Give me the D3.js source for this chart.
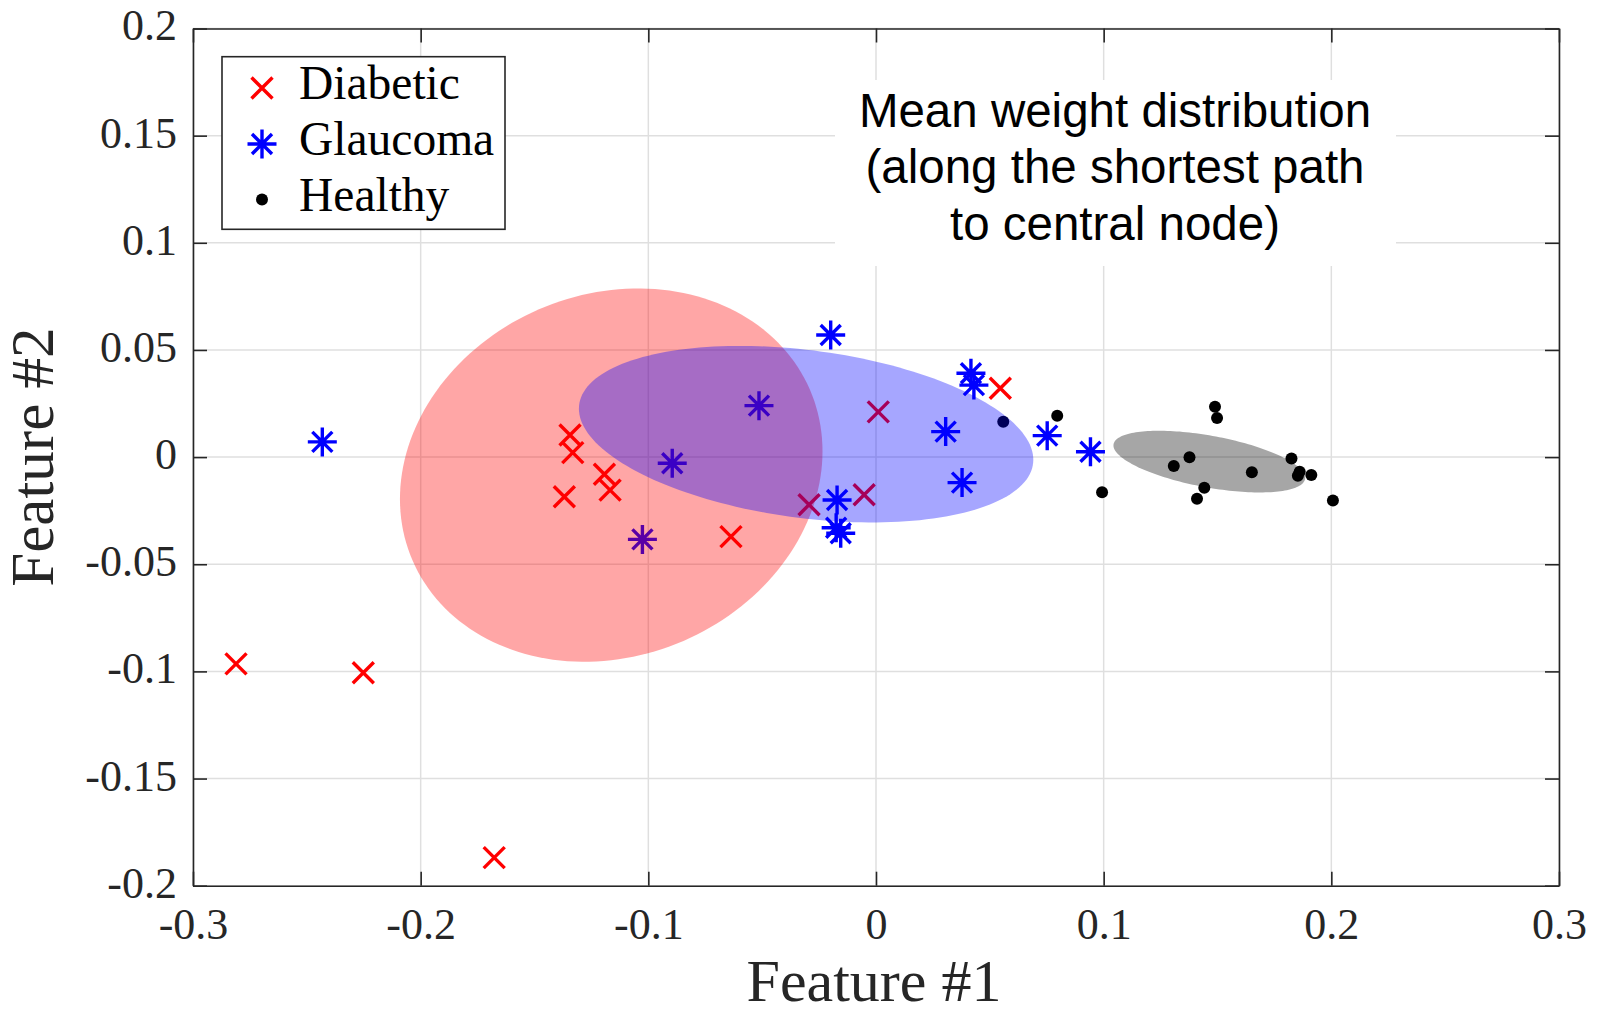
<!DOCTYPE html>
<html>
<head>
<meta charset="utf-8">
<script src="https://cdn.jsdelivr.net/npm/d3@7"></script>
<style>
  html, body { margin: 0; padding: 0; background: #ffffff; }
  svg { display: block; }
</style>
</head>
<body>
<svg id="chart" width="1600" height="1016"></svg>
<script>
// ---------------- data ----------------
const xTicks = [-0.3, -0.2, -0.1, 0, 0.1, 0.2, 0.3];
const xTickLabels = ["-0.3", "-0.2", "-0.1", "0", "0.1", "0.2", "0.3"];
const yTicks = [-0.2, -0.15, -0.1, -0.05, 0, 0.05, 0.1, 0.15, 0.2];
const yTickLabels = ["-0.2", "-0.15", "-0.1", "-0.05", "0", "0.05", "0.1", "0.15", "0.2"];

const seriesNames = ["Diabetic", "Glaucoma", "Healthy"];

const diabeticX = [-0.2811, -0.2252, -0.1677, -0.1344, -0.1332, -0.1193, -0.1168, -0.1369, -0.0637, -0.0294, -0.0052, 0.0010, 0.0546];
const diabeticY = [-0.0965, -0.1006, -0.1869, 0.0103, 0.0021, -0.0080, -0.0154, -0.0185, -0.0371, -0.0222, -0.0176, 0.0211, 0.0321];

const glaucomaX = [-0.2432, -0.1026, -0.0895, -0.0514, -0.0199, -0.0171, -0.0175, -0.0155, 0.0306, 0.0378, 0.0417, 0.0430, 0.0752, 0.0942];
const glaucomaY = [0.0071, -0.0384, -0.0029, 0.0240, 0.0570, -0.0200, -0.0330, -0.0355, 0.0119, -0.0119, 0.0391, 0.0336, 0.0100, 0.0025];

const healthyX = [0.0559, 0.0796, 0.0993, 0.1308, 0.1377, 0.1410, 0.1442, 0.1489, 0.1498, 0.1651, 0.1825, 0.1853, 0.1861, 0.1912, 0.2007];
const healthyY = [0.0165, 0.0193, -0.0164, -0.0042, -0.0001, -0.0194, -0.0143, 0.0235, 0.0182, -0.0071, -0.0007, -0.0087, -0.0068, -0.0084, -0.0202];

// distribution ellipses (Diabetic, Glaucoma, Healthy): centre, half extents, correlation
const ellipseCx  = [-0.1163, -0.0307, 0.1464];
const ellipseCy  = [-0.0084, 0.0107, -0.0021];
const ellipseRx  = [0.0928, 0.0998, 0.0421];
const ellipseRy  = [0.0871, 0.0412, 0.0144];
const ellipseRho = [0.128, -0.289, -0.525];

const titleLines = ["Mean weight distribution", "(along the shortest path", "to central node)"];
const xLabel = "Feature #1";
const yLabel = "Feature #2";

// ---------------- layout ----------------
const L = 193, R = 1559, T = 28.5, B = 885.7;
const colors = ["#ff0000", "#0000ff", "#000000"];
const axisColor = "#262626";
const serif = "'Liberation Serif', 'Times New Roman', serif";
const sans = "'Liberation Sans', Arial, sans-serif";

const svg = d3.select("#chart");
svg.append("rect").attr("width", 1600).attr("height", 1016).attr("fill", "#fff");

const x = d3.scaleLinear().domain([-0.3, 0.3]).range([L, R]);
const y = d3.scaleLinear().domain([-0.2, 0.2]).range([B, T]);

svg.append("defs").append("clipPath").attr("id", "plotclip")
  .append("rect").attr("x", L).attr("y", T).attr("width", R - L).attr("height", B - T);

// grid
const grid = svg.append("g");
grid.selectAll("line.gx").data(xTicks).join("line")
  .attr("x1", d => x(d)).attr("x2", d => x(d)).attr("y1", T).attr("y2", B)
  .attr("stroke", "#dfdfdf").attr("stroke-width", 1.5);
grid.selectAll("line.gy").data(yTicks).join("line")
  .attr("y1", d => y(d)).attr("y2", d => y(d)).attr("x1", L).attr("x2", R)
  .attr("stroke", "#dfdfdf").attr("stroke-width", 1.5);

// markers
const plot = svg.append("g").attr("clip-path", "url(#plotclip)");
const crossPath = (s) => `M${-s},${-s}L${s},${s}M${-s},${s}L${s},${-s}`;
const starPath = (r, d) => `M0,${-r}L0,${r}M${-r},0L${r},0M${-d},${-d}L${d},${d}M${-d},${d}L${d},${-d}`;

const dia = d3.zip(diabeticX, diabeticY);
const gla = d3.zip(glaucomaX, glaucomaY);
const hea = d3.zip(healthyX, healthyY);

plot.selectAll("path.dia").data(dia).join("path")
  .attr("transform", d => `translate(${x(d[0])},${y(d[1])})`)
  .attr("d", crossPath(10.5)).attr("fill", "none")
  .attr("stroke", colors[0]).attr("stroke-width", 3.4);

plot.selectAll("path.gla").data(gla).join("path")
  .attr("transform", d => `translate(${x(d[0])},${y(d[1])})`)
  .attr("d", starPath(14.5, 10)).attr("fill", "none")
  .attr("stroke", colors[1]).attr("stroke-width", 3.4);

plot.selectAll("circle.hea").data(hea).join("circle")
  .attr("cx", d => x(d[0])).attr("cy", d => y(d[1])).attr("r", 6)
  .attr("fill", colors[2]);

// ellipses (drawn on top, translucent)
const ellipses = d3.range(3).map(i => ({
  cx: ellipseCx[i], cy: ellipseCy[i], rx: ellipseRx[i], ry: ellipseRy[i], rho: ellipseRho[i], color: colors[i]
}));
const line = d3.line().x(p => x(p[0])).y(p => y(p[1])).curve(d3.curveLinearClosed);
plot.selectAll("path.ell").data(ellipses).join("path")
  .attr("d", e => {
    const pts = d3.range(0, 360, 2).map(a => {
      const t = a * Math.PI / 180;
      return [e.cx + e.rx * Math.cos(t),
              e.cy + e.ry * (e.rho * Math.cos(t) + Math.sqrt(1 - e.rho * e.rho) * Math.sin(t))];
    });
    return line(pts);
  })
  .attr("fill", e => e.color).attr("fill-opacity", 0.35).attr("stroke", "none");

// axes
const fmtX = (d, i) => xTickLabels[i];
const fmtY = (d, i) => yTickLabels[i];
const styleAxis = g => {
  g.select(".domain").attr("stroke", axisColor).attr("stroke-width", 1.6);
  g.selectAll(".tick line").attr("stroke", axisColor).attr("stroke-width", 1.6);
  g.selectAll(".tick text").attr("fill", axisColor).attr("font-family", serif).attr("font-size", 44);
};
svg.append("g").attr("transform", `translate(0,${B})`)
  .call(d3.axisBottom(x).tickValues(xTicks).tickFormat(fmtX).tickSizeInner(-14).tickSizeOuter(0).tickPadding(22))
  .call(styleAxis)
  .call(g => g.selectAll(".tick text").attr("dy", "0.71em"));
svg.append("g").attr("transform", `translate(${L},0)`)
  .call(d3.axisLeft(y).tickValues(yTicks).tickFormat(fmtY).tickSizeInner(-14).tickSizeOuter(0).tickPadding(16))
  .call(styleAxis)
  .call(g => g.selectAll(".tick text").attr("dy", "0.26em"));
svg.append("g").attr("transform", `translate(0,${T})`)
  .call(d3.axisTop(x).tickValues(xTicks).tickFormat("").tickSizeInner(-14).tickSizeOuter(0))
  .call(styleAxis);
svg.append("g").attr("transform", `translate(${R},0)`)
  .call(d3.axisRight(y).tickValues(yTicks).tickFormat("").tickSizeInner(-14).tickSizeOuter(0))
  .call(styleAxis);

// axis labels
svg.append("text").attr("x", (L + R) / 2 - 2).attr("y", 1001)
  .attr("text-anchor", "middle").attr("font-family", serif).attr("font-size", 60)
  .attr("fill", axisColor).text(xLabel);
svg.append("text").attr("transform", `translate(53,${(T + B) / 2}) rotate(-90)`)
  .attr("text-anchor", "middle").attr("font-family", serif).attr("font-size", 61)
  .attr("fill", axisColor).text(yLabel);

// title annotation with white background
svg.append("rect").attr("x", 835).attr("y", 80).attr("width", 561).attr("height", 186).attr("fill", "#fff");
svg.append("g").selectAll("text").data(titleLines).join("text")
  .attr("x", 1115).attr("y", (d, i) => 126.7 + i * 56.7)
  .attr("text-anchor", "middle").attr("font-family", sans).attr("font-size", 47.5)
  .attr("fill", "#000").text(d => d);

// legend
const lg = svg.append("g");
lg.append("rect").attr("x", 222).attr("y", 56.7).attr("width", 283).attr("height", 172.6)
  .attr("fill", "#fff").attr("stroke", axisColor).attr("stroke-width", 1.6);
const rowY = [88, 144, 199.5];
lg.append("path").attr("transform", `translate(262,${rowY[0]})`).attr("d", crossPath(10.5))
  .attr("fill", "none").attr("stroke", colors[0]).attr("stroke-width", 3.4);
lg.append("path").attr("transform", `translate(262,${rowY[1]})`).attr("d", starPath(14.5, 10))
  .attr("fill", "none").attr("stroke", colors[1]).attr("stroke-width", 3.4);
lg.append("circle").attr("cx", 262).attr("cy", rowY[2]).attr("r", 6).attr("fill", colors[2]);
lg.selectAll("text").data(seriesNames).join("text")
  .attr("x", 299).attr("y", (d, i) => rowY[i] + 11)
  .attr("font-family", serif).attr("font-size", 47.5).attr("fill", "#000").text(d => d);
</script>
</body>
</html>
